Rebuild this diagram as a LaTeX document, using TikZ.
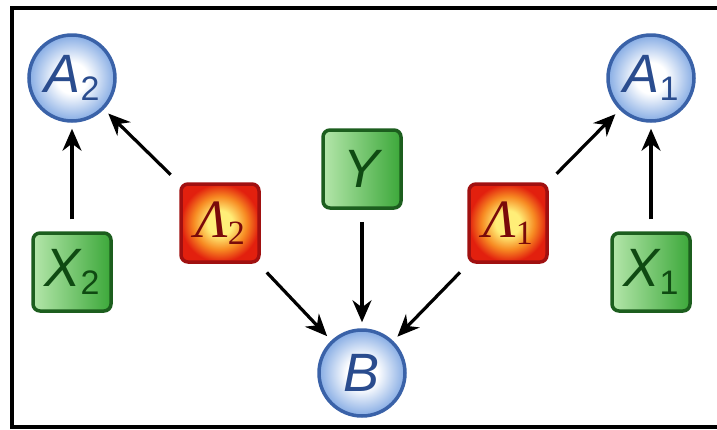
\documentclass[tikz,border=0pt]{standalone}
\usepackage{fontspec}
\setmainfont{Liberation Sans}
\newfontfamily\greekserif{Liberation Serif}
\usetikzlibrary{arrows.meta,shadings}
\definecolor{cblueline}{HTML}{3A62A8}
\definecolor{cbluetext}{HTML}{2A4C8E}
\definecolor{cblueout}{HTML}{86ACE4}
\definecolor{cgreenline}{HTML}{1C5E1E}
\definecolor{cgreentext}{HTML}{0F4A12}
\definecolor{cgreenL}{HTML}{B4E6AA}
\definecolor{cgreenR}{HTML}{3CA83A}
\definecolor{credline}{HTML}{A01010}
\definecolor{credtext}{HTML}{7A0A0A}
\definecolor{credout}{HTML}{E2200E}
\definecolor{credmid}{HTML}{F78A22}
\definecolor{credin}{HTML}{FFEE78}
\pgfdeclareradialshading{redglow}{\pgfpoint{0bp}{0bp}}{%
  color(0bp)=(credin); color(8bp)=(credin); color(17bp)=(credmid);
  color(25bp)=(credout); color(50bp)=(credout)}
\pgfdeclareradialshading{blueglow}{\pgfpoint{0bp}{0bp}}{%
  color(0bp)=(white); color(9bp)=(white); color(25bp)=(cblueout);
  color(50bp)=(cblueout)}
\tikzset{
  circnode/.style={circle, minimum size=86pt, inner sep=0pt, line width=3.5pt,
    draw=cblueline, shading=blueglow, text=cbluetext,
    font=\fontsize{54}{54}\selectfont\itshape},
  greenbox/.style={rectangle, rounded corners=7pt, minimum size=78pt, inner sep=0pt,
    line width=3.5pt, draw=cgreenline, left color=cgreenL, right color=cgreenR,
    text=cgreentext, font=\fontsize{54}{54}\selectfont\itshape},
  redbox/.style={rectangle, rounded corners=7pt, minimum size=78pt, inner sep=0pt,
    line width=3.5pt, draw=credline, shading=redglow,
    text=credtext, font=\fontsize{54}{54}\selectfont\greekserif\itshape},
  conn/.style={line width=3.2pt, -{Stealth[length=22pt,width=19pt]},
    shorten <=12pt, shorten >=6pt},
}
\newcommand{\subn}[1]{\raisebox{-0.3ex}{\fontsize{34}{34}\selectfont\upshape #1}}
\begin{document}
\begin{tikzpicture}[x=1pt,y=-1pt]
\useasboundingbox (0,0) rectangle (717,429);
\draw[line width=4.5pt] (740,8) -- (12,8) -- (12,427) -- (740,427);
\node[circnode] (a2) at (72,78) {A\subn{2}};
\node[circnode] (a1) at (651,78) {A\subn{1}};
\node[circnode] (b) at (362,373) {B};
\node[greenbox] (y) at (362,169) {Y};
\node[greenbox] (x2) at (72,272) {X\subn{2}};
\node[greenbox] (x1) at (651,272) {X\subn{1}};
\node[redbox] (l2) at (220,223) {Λ\subn{\greekserif 2}};
\node[redbox] (l1) at (508,223) {Λ\subn{\greekserif 1}};
\draw[conn] (x2) -- (a2);
\draw[conn] (x1) -- (a1);
\draw[conn] (l2) -- (a2);
\draw[conn] (l1) -- (a1);
\draw[conn] (l2) -- (b);
\draw[conn] (l1) -- (b);
\draw[conn] (y) -- (b);
\end{tikzpicture}
\end{document}
